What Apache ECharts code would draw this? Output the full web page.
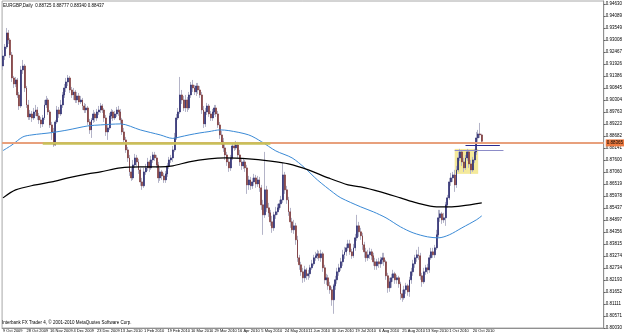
<!DOCTYPE html>
<html><head><meta charset="utf-8">
<script src="https://cdn.jsdelivr.net/npm/echarts@6/dist/echarts.min.js"></script>
<style>html,body{margin:0;padding:0;background:#fff}#c{width:625px;height:334px}</style>
</head><body><div id="c"></div>
<script>
const symbolTitle = 'EURGBP,Daily';
const copyright = 'Interbank FX Trader 4, \u00a9 2001-2010 MetaQuotes Software Corp.';
const tickLabels = ['9 Oct 2009','28 Oct 2009','16 Nov 2009','4 Dec 2009','23 Dec 2009','13 Jan 2010','1 Feb 2010','19 Feb 2010','10 Mar 2010','29 Mar 2010','16 Apr 2010','5 May 2010','24 May 2010','11 Jun 2010','30 Jun 2010','19 Jul 2010','6 Aug 2010','25 Aug 2010','13 Sep 2010','1 Oct 2010','20 Oct 2010'];
const barsPerLabel = 13;
const totalSlots = 333;

const opens = [
0.91830,0.92280,0.92685,0.93315,0.93000,0.92325,0.91290,0.91020,0.91200,0.90525,
0.90030,0.91650,0.91830,0.90840,0.90075,0.89535,0.89670,0.89490,0.89760,0.89850,
0.89580,0.89400,0.89220,0.89490,0.90075,0.90300,0.89760,0.89175,0.88860,0.88275,
0.89310,0.89850,0.89670,0.90075,0.90525,0.90840,0.91110,0.91290,0.90750,0.90525,
0.90660,0.90300,0.90480,0.90210,0.90300,0.90030,0.89850,0.89940,0.89310,0.88950,
0.89400,0.89670,0.89490,0.89760,0.89850,0.90030,0.89850,0.89490,0.88860,0.89040,
0.89580,0.89760,0.89490,0.89670,0.89850,0.89760,0.89400,0.88860,0.88500,0.88050,
0.87690,0.87060,0.86790,0.87375,0.87690,0.87510,0.87150,0.86610,0.86430,0.87060,
0.87240,0.87510,0.87240,0.87600,0.87825,0.87690,0.87375,0.86790,0.87060,0.86880,
0.86700,0.86970,0.87330,0.87600,0.87690,0.88050,0.88590,0.89490,0.89760,0.90525,
0.90300,0.89940,0.90300,0.89940,0.90525,0.90975,0.90840,0.90660,0.90930,0.90750,
0.90525,0.89850,0.89220,0.89760,0.90030,0.89670,0.89490,0.89760,0.89940,0.89670,
0.89175,0.88725,0.88410,0.88140,0.87825,0.87510,0.87240,0.87690,0.88230,0.88140,
0.88275,0.87825,0.87510,0.87330,0.87510,0.87240,0.86475,0.86700,0.86430,0.86610,
0.86790,0.86520,0.86700,0.86340,0.85575,0.85125,0.86250,0.85440,0.85215,0.84810,
0.84540,0.85125,0.85260,0.85440,0.85620,0.85800,0.86925,0.86250,0.85800,0.85260,
0.84810,0.84450,0.84630,0.84000,0.83190,0.82875,0.82560,0.82290,0.82650,0.82380,
0.82470,0.82740,0.82920,0.83190,0.83280,0.83370,0.83190,0.83370,0.82740,0.82200,
0.82290,0.81930,0.81750,0.81300,0.81930,0.82200,0.82560,0.82740,0.83010,0.83325,
0.83460,0.83640,0.83820,0.83460,0.83280,0.83640,0.84090,0.84630,0.84360,0.84180,
0.83775,0.83460,0.83190,0.83325,0.83460,0.83280,0.83010,0.82830,0.83010,0.82920,
0.83100,0.83190,0.83010,0.82380,0.81840,0.82110,0.82290,0.82470,0.82200,0.82290,
0.82020,0.81570,0.81390,0.81750,0.81930,0.81660,0.82200,0.82560,0.82920,0.83190,
0.83325,0.83280,0.82380,0.82110,0.82560,0.82740,0.82650,0.83190,0.83460,0.83325,
0.83640,0.84225,0.84990,0.85170,0.84900,0.84990,0.85575,0.85890,0.86610,0.86790,
0.86925,0.86475,0.87150,0.87690,0.87960,0.87510,0.87240,0.87690,0.87960,0.87420,
0.87150,0.87600,0.87960,0.88590,0.88770,0.88725];

const closes = [
0.92280,0.92685,0.93315,0.93000,0.92325,0.91290,0.91020,0.91200,0.90525,0.90030,
0.91650,0.91830,0.90840,0.90075,0.89535,0.89670,0.89490,0.89760,0.89850,0.89580,
0.89400,0.89220,0.89490,0.90075,0.90300,0.89760,0.89175,0.88860,0.88275,0.89310,
0.89850,0.89670,0.90075,0.90525,0.90840,0.91110,0.91290,0.90750,0.90525,0.90660,
0.90300,0.90480,0.90210,0.90300,0.90030,0.89850,0.89940,0.89310,0.88950,0.89400,
0.89670,0.89490,0.89760,0.89850,0.90030,0.89850,0.89490,0.88860,0.89040,0.89580,
0.89760,0.89490,0.89670,0.89850,0.89760,0.89400,0.88860,0.88500,0.88050,0.87690,
0.87060,0.86790,0.87375,0.87690,0.87510,0.87150,0.86610,0.86430,0.87060,0.87240,
0.87510,0.87240,0.87600,0.87825,0.87690,0.87375,0.86790,0.87060,0.86880,0.86700,
0.86970,0.87330,0.87600,0.87690,0.88050,0.88590,0.89490,0.89760,0.90525,0.90300,
0.89940,0.90300,0.89940,0.90525,0.90975,0.90840,0.90660,0.90930,0.90750,0.90525,
0.89850,0.89220,0.89760,0.90030,0.89670,0.89490,0.89760,0.89940,0.89670,0.89175,
0.88725,0.88410,0.88140,0.87825,0.87510,0.87240,0.87690,0.88230,0.88140,0.88275,
0.87825,0.87510,0.87330,0.87510,0.87240,0.86475,0.86700,0.86430,0.86610,0.86790,
0.86520,0.86700,0.86340,0.85575,0.85125,0.86250,0.85440,0.85215,0.84810,0.84540,
0.85125,0.85260,0.85440,0.85620,0.85800,0.86925,0.86250,0.85800,0.85260,0.84810,
0.84450,0.84630,0.84000,0.83190,0.82875,0.82560,0.82290,0.82650,0.82380,0.82470,
0.82740,0.82920,0.83190,0.83280,0.83370,0.83190,0.83370,0.82740,0.82200,0.82290,
0.81930,0.81750,0.81300,0.81930,0.82200,0.82560,0.82740,0.83010,0.83325,0.83460,
0.83640,0.83820,0.83460,0.83280,0.83640,0.84090,0.84630,0.84360,0.84180,0.83775,
0.83460,0.83190,0.83325,0.83460,0.83280,0.83010,0.82830,0.83010,0.82920,0.83100,
0.83190,0.83010,0.82380,0.81840,0.82110,0.82290,0.82470,0.82200,0.82290,0.82020,
0.81570,0.81390,0.81750,0.81930,0.81660,0.82200,0.82560,0.82920,0.83190,0.83325,
0.83280,0.82380,0.82110,0.82560,0.82740,0.82650,0.83190,0.83460,0.83325,0.83640,
0.84225,0.84990,0.85170,0.84900,0.84990,0.85575,0.85890,0.86610,0.86790,0.86925,
0.86475,0.87150,0.87690,0.87960,0.87510,0.87240,0.87690,0.87960,0.87420,0.87150,
0.87600,0.87960,0.88590,0.88770,0.88725,0.88437];

const highs = [
0.92550,0.92820,0.93540,0.93450,0.93090,0.92460,0.91380,0.91335,0.91290,0.90660,
0.91830,0.92100,0.91920,0.90930,0.90300,0.89850,0.89805,0.89940,0.90075,0.89985,
0.89715,0.89535,0.89625,0.90300,0.90480,0.90390,0.89850,0.89310,0.89040,0.89400,
0.90030,0.89985,0.90300,0.90660,0.91020,0.91290,0.91425,0.91380,0.90885,0.90840,
0.90750,0.90660,0.90615,0.90480,0.90390,0.90165,0.90120,0.90030,0.89445,0.89490,
0.89850,0.89760,0.89895,0.90030,0.90165,0.90120,0.89940,0.89625,0.89220,0.89715,
0.89895,0.89850,0.89805,0.89985,0.90030,0.89895,0.89490,0.89040,0.88635,0.88185,
0.87825,0.87240,0.87600,0.87870,0.87825,0.87645,0.87240,0.86790,0.87240,0.87420,
0.87690,0.87600,0.87780,0.87960,0.87960,0.87825,0.87510,0.87240,0.87150,0.87015,
0.87105,0.87465,0.87735,0.87825,0.88230,0.88815,0.89670,0.89940,0.91335,0.90750,
0.90480,0.90525,0.90435,0.90660,0.91110,0.91200,0.90975,0.91065,0.91065,0.90930,
0.90660,0.90030,0.89940,0.90165,0.90120,0.89805,0.89895,0.90075,0.90075,0.89805,
0.89310,0.88905,0.88590,0.88320,0.87960,0.87690,0.87825,0.88365,0.88410,0.88455,
0.88410,0.88050,0.87690,0.87690,0.87600,0.87375,0.86880,0.86835,0.86790,0.86970,
0.86925,0.86880,0.86835,0.86475,0.85800,0.87960,0.86430,0.85665,0.85350,0.85080,
0.85260,0.85485,0.85620,0.85800,0.85980,0.87465,0.87060,0.86430,0.85935,0.85440,
0.84990,0.84900,0.84765,0.84180,0.83325,0.83010,0.82740,0.82830,0.82740,0.82650,
0.82875,0.83100,0.83325,0.83460,0.83550,0.83505,0.83550,0.83460,0.82875,0.82470,
0.82425,0.82110,0.81885,0.82020,0.82380,0.82740,0.82920,0.83190,0.83550,0.83685,
0.83820,0.84000,0.84000,0.83595,0.83820,0.84270,0.85125,0.84810,0.84540,0.84315,
0.83910,0.83640,0.83550,0.83640,0.83595,0.83415,0.83190,0.83145,0.83190,0.83235,
0.83415,0.83415,0.83100,0.82515,0.82290,0.82470,0.82650,0.82560,0.82425,0.82380,
0.82110,0.81750,0.81930,0.82065,0.82020,0.82335,0.82740,0.83100,0.83325,0.83550,
0.83685,0.83415,0.82515,0.82740,0.82875,0.82920,0.83325,0.83640,0.83640,0.83775,
0.84450,0.85350,0.85350,0.85260,0.85215,0.85710,0.86025,0.86790,0.87015,0.87060,
0.87150,0.87330,0.87960,0.88095,0.88050,0.87690,0.87825,0.88095,0.88050,0.87600,
0.87735,0.88095,0.88860,0.88950,0.89265,0.88777];

const lows = [
0.91650,0.92100,0.92595,0.92820,0.92190,0.91110,0.90840,0.90885,0.90390,0.89850,
0.89940,0.91470,0.90660,0.89940,0.89400,0.89400,0.89310,0.89400,0.89580,0.89400,
0.89220,0.89040,0.89085,0.89400,0.89940,0.89625,0.89040,0.88500,0.88185,0.88230,
0.89220,0.89490,0.89580,0.89940,0.90390,0.90660,0.90930,0.90615,0.90390,0.90300,
0.90165,0.90165,0.90075,0.90120,0.89850,0.89715,0.89715,0.89175,0.88770,0.88590,
0.89265,0.89310,0.89355,0.89625,0.89715,0.89715,0.89310,0.88680,0.88500,0.88950,
0.89445,0.89355,0.89400,0.89535,0.89580,0.89220,0.88725,0.88320,0.87915,0.87510,
0.86880,0.86655,0.86700,0.87240,0.87330,0.86970,0.86430,0.86250,0.86340,0.86925,
0.87105,0.87060,0.87150,0.87465,0.87555,0.87240,0.86565,0.86655,0.86700,0.86565,
0.86565,0.86835,0.87195,0.87465,0.87510,0.87960,0.88500,0.89400,0.89670,0.90120,
0.89805,0.89760,0.89760,0.89850,0.90390,0.90660,0.90525,0.90480,0.90570,0.90390,
0.89670,0.89040,0.89085,0.89625,0.89535,0.89355,0.89355,0.89625,0.89535,0.89040,
0.88545,0.88275,0.87960,0.87600,0.87330,0.87060,0.87105,0.87600,0.88005,0.88050,
0.87690,0.87330,0.87150,0.87195,0.87060,0.86070,0.86250,0.86250,0.86295,0.86430,
0.86340,0.86385,0.86160,0.85350,0.84225,0.84990,0.85260,0.85035,0.84630,0.84315,
0.84405,0.84945,0.85125,0.85350,0.85440,0.85665,0.86070,0.85620,0.85080,0.84540,
0.84315,0.84270,0.83775,0.83010,0.82650,0.82380,0.82065,0.82110,0.82200,0.82200,
0.82290,0.82650,0.82830,0.83055,0.83145,0.83055,0.83010,0.82560,0.82020,0.81975,
0.81750,0.81570,0.81030,0.80670,0.81750,0.82020,0.82380,0.82605,0.82830,0.83145,
0.83280,0.83505,0.83325,0.83145,0.83190,0.83505,0.83955,0.84135,0.84000,0.83550,
0.83190,0.83010,0.83055,0.83145,0.83100,0.82830,0.82650,0.82650,0.82740,0.82740,
0.82920,0.82830,0.82200,0.81615,0.81660,0.81840,0.82110,0.82020,0.82020,0.81840,
0.81300,0.81210,0.81300,0.81570,0.81480,0.81435,0.82020,0.82380,0.82740,0.83010,
0.83100,0.82200,0.81885,0.82020,0.82425,0.82470,0.82515,0.83100,0.83190,0.83190,
0.83550,0.84090,0.84810,0.84720,0.84765,0.84630,0.85440,0.85800,0.86430,0.86610,
0.86160,0.86340,0.87060,0.87555,0.87330,0.87060,0.87150,0.87555,0.87240,0.86970,
0.87060,0.87465,0.87825,0.88410,0.88590,0.88340];

// moving averages: bar index / value
const maBlueIdx = [0,5,11,16,27,36,47,54,65,76,87,94,98,103,109,114,120,125,136,143,151,160,167,174,183,187,198,205,212,220,227,235,241,247,254,262,265];
const maBlueVal = [0.88019,0.88275,0.88635,0.88725,0.88829,0.88950,0.89130,0.89175,0.89220,0.88950,0.88725,0.88568,0.88635,0.88725,0.88815,0.88874,0.88950,0.88919,0.88725,0.88424,0.88005,0.87690,0.87240,0.86700,0.86115,0.85890,0.85485,0.85260,0.84990,0.84585,0.84315,0.84135,0.84090,0.84225,0.84540,0.84900,0.85080];
const maBlackIdx = [0,7,18,27,36,47,54,65,76,87,94,103,114,123,136,147,158,169,180,191,198,209,220,229,240,247,254,265];
const maBlackVal = [0.85890,0.86250,0.86475,0.86610,0.86790,0.86970,0.87060,0.87240,0.87285,0.87285,0.87330,0.87510,0.87645,0.87690,0.87645,0.87555,0.87420,0.87150,0.86790,0.86475,0.86385,0.86160,0.85890,0.85665,0.85485,0.85485,0.85530,0.85665];

// drawn objects (price levels and bar ranges)
const levelOrange = 0.88365;
const levelOlive = 0.88350, oliveFrom = 22, oliveTo = 148;
const levelNavy = 0.88243, navyFrom = 256, navyTo = 275;
const levelLav = 0.88050, lavFrom = 250, lavTo = 277;
const boxFrom = 250, boxTo = 263, boxTop = 0.88095, boxBottom = 0.86970;

const yMin = 0.8003, yMax = 0.94755, yStep = 0.8003 / 148;

const n = closes.length;
const cats = [];
for (let i = 0; i < totalSlots; i++) cats.push('b' + i);
const isTick = i => i % barsPerLabel === 0 && i / barsPerLabel < tickLabels.length;

const wickData = [], bodyData = [];
for (let i = 0; i < n; i++) {
  wickData.push([opens[i], closes[i], lows[i], highs[i]]);
  bodyData.push([opens[i], closes[i], Math.min(opens[i], closes[i]), Math.max(opens[i], closes[i])]);
}
const blue = maBlueIdx.map((k, j) => [k, maBlueVal[j]]);
const black = maBlackIdx.map((k, j) => [k, maBlackVal[j]]);

const FONT = 'Liberation Sans';
const chart = echarts.init(document.getElementById('c'), null, {renderer: 'canvas'});
chart.setOption({
  backgroundColor: '#ffffff',
  animation: false,
  textStyle: {fontFamily: FONT},
  grid: {left: 0, right: 15, top: 1, bottom: 6, show: true, borderColor: '#a8a8a8', borderWidth: 1, backgroundColor: '#ffffff'},
  xAxis: {
    type: 'category', data: cats, boundaryGap: true,
    axisLine: {lineStyle: {color: '#909090', width: 1}},
    axisTick: {interval: (i) => isTick(i), alignWithLabel: true, length: 2, lineStyle: {color: '#606060'}},
    axisLabel: {interval: (i) => isTick(i), formatter: (v, i) => isTick(i) ? tickLabels[i / barsPerLabel] : '',
      align: 'left', margin: 1, fontSize: 4, color: '#000', fontFamily: FONT},
    splitLine: {show: false}
  },
  yAxis: {
    type: 'value', position: 'right', min: yMin, max: yMax, interval: yStep, scale: true,
    axisLine: {show: true, lineStyle: {color: '#909090', width: 1}},
    axisTick: {show: true, length: 2, lineStyle: {color: '#606060'}},
    axisLabel: {fontSize: 4.5, color: '#000', margin: 2, showMaxLabel: false, fontFamily: FONT,
      formatter: v => v.toFixed(5)},
    splitLine: {show: false}
  },
  graphic: [
    {type: 'text', left: 3, top: 3, style: {text: symbolTitle + '  ' + opens[n-1].toFixed(5) + ' ' + highs[n-1].toFixed(5) + ' ' + lows[n-1].toFixed(5) + ' ' + closes[n-1].toFixed(5), fontSize: 4.5, fill: '#000', fontFamily: FONT}},
    {type: 'text', left: 2, top: 320, style: {text: copyright, fontSize: 4.5, fill: '#000', fontFamily: FONT}}
  ],
  series: [
    {type: 'line', data: [], z: 1, silent: true,
     markArea: {silent: true, itemStyle: {color: 'rgba(240,226,120,0.75)'},
       data: [[{coord: [boxFrom, boxTop]}, {coord: [boxTo, boxBottom]}]]}},
    {type: 'candlestick', data: wickData, z: 2, barWidth: 1, silent: true,
     itemStyle: {color: '#b4b4c8', color0: '#b4b4c8', borderColor: '#b4b4c8', borderColor0: '#b4b4c8', borderWidth: 1}},
    {type: 'candlestick', data: bodyData, z: 3, barWidth: 1.4, silent: true,
     itemStyle: {color: '#23236a', color0: '#7a3232', borderColor: '#23236a', borderColor0: '#7a3232', borderWidth: 0.6}},
    {type: 'line', data: blue, smooth: 0.3, symbol: 'none', z: 4, silent: true,
     lineStyle: {color: '#3a8ad6', width: 1}},
    {type: 'line', data: black, smooth: 0.3, symbol: 'none', z: 4, silent: true,
     lineStyle: {color: '#000000', width: 1.2}},
    {type: 'line', data: [], z: 5, silent: true,
     markLine: {silent: true, symbol: 'none', animation: false, precision: 5,
       data: [
         {yAxis: levelOrange, lineStyle: {color: '#e8a07c', width: 2, type: 'solid'},
          label: {show: true, position: 'end', distance: 2, formatter: p => Number(p.value).toFixed(5), fontSize: 4.5,
                  color: '#000', backgroundColor: '#ee7a40', padding: [1, 1], fontFamily: FONT}},
         [{coord: [oliveFrom, levelOlive], lineStyle: {color: '#c8c058', width: 2.5, type: 'solid'}, label: {show: false}},
          {coord: [oliveTo, levelOlive]}],
         [{coord: [navyFrom, levelNavy], lineStyle: {color: '#2a2a90', width: 1, type: 'solid'}, label: {show: false}},
          {coord: [navyTo, levelNavy]}],
         [{coord: [lavFrom, levelLav], lineStyle: {color: '#8c8cc8', width: 1.2, type: 'solid'}, label: {show: false}},
          {coord: [lavTo, levelLav]}]
       ]}}
  ]
});
</script>
</body></html>
